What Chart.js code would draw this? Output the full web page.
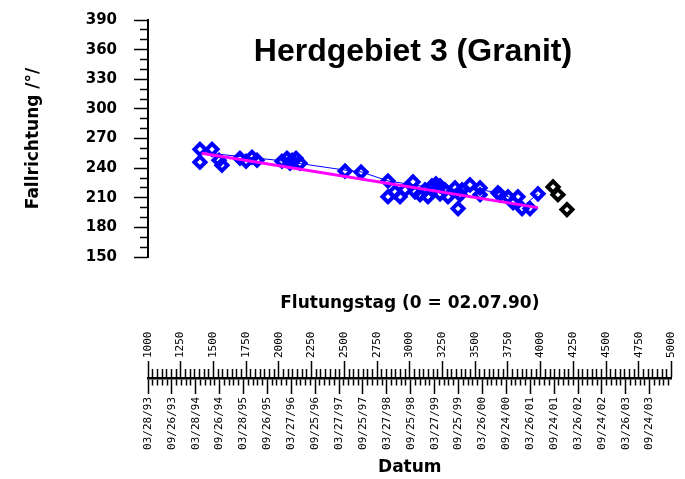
<!DOCTYPE html>
<html>
<head>
<meta charset="utf-8">
<script src="https://cdn.jsdelivr.net/npm/chart.js@4.4.0/dist/chart.umd.min.js"></script>
<style>
    html, body { margin: 0; padding: 0; background: #fff; }
    #wrap { position: relative; width: 685px; height: 479px; }
    #plot { position: absolute; left: 0; top: 0; }
    #scale { position: absolute; left: 0; top: 285px; }
</style>
</head>
<body>
<div id="wrap">
    <canvas id="plot" width="685" height="290"></canvas>
    <canvas id="scale" width="685" height="194"></canvas>
</div>
<script>
// measured points: day since flooding (0 = 02.07.90) and dip direction in degrees
var flutungstag = [1392, 1483, 1392, 1536, 1558, 1694, 1740, 1785, 1823, 2011, 2049, 2087, 2117, 2072, 2147,
    2487, 2608, 2811, 2811, 2864, 2902, 2940, 3000, 3015, 3053, 3091, 3113, 3143, 3173, 3204, 3204, 3241,
    3264, 3317, 3340, 3355, 3370, 3430, 3506, 3506, 3641, 3657, 3717, 3755, 3792, 3823, 3883, 3943];
var fallrichtung = [259, 259, 246, 248, 243, 250, 247, 251, 248, 247, 250, 248, 250, 245, 245,
    237, 236, 227, 211, 216, 211, 218, 226, 216, 213, 218, 211, 222, 224, 222, 214, 218,
    211, 220, 199, 213, 218, 223, 220, 213, 215, 213, 211, 205, 211, 199, 199, 214];

// later points (black)
var spaetTag = [4057, 4094, 4162];
var spaetRichtung = [221, 213, 198];

// thin blue trend line
var trendTag = [1392, 1974, 2487, 2615, 2811, 3204, 3506, 3657, 3845, 3943];
var trendRichtung = [256, 248, 238, 236, 227, 219, 218, 215, 203, 214];

// regression line (magenta)
var regressionTag = [1405, 3943];
var regressionRichtung = [255, 200];

// axis labels
var datumLabels = ["03/28/93", "09/26/93", "03/28/94", "09/26/94", "03/28/95", "09/26/95", "03/27/96",
    "09/25/96", "03/27/97", "09/25/97", "03/27/98", "09/25/98", "03/27/99", "09/25/99", "03/26/00",
    "09/24/00", "03/26/01", "09/24/01", "03/26/02", "09/24/02", "03/26/03", "09/24/03"];

var chartTitle = "Herdgebiet 3 (Granit)";

function points(xs, ys) {
    return xs.map(function (x, i) {
        return { x: x, y: ys[i] };
    });
}

var start = Date.UTC(1990, 6, 2);
function dayOf(label) {
    var p = label.split("/").map(Number);
    var year = p[2] < 50 ? 2000 + p[2] : 1900 + p[2];
    return Math.round((Date.UTC(year, p[0] - 1, p[1]) - start) / 86400000);
}

var datumDays = datumLabels.map(dayOf);
var datumByDay = {};
datumDays.forEach(function (d, i) {
    datumByDay[d] = datumLabels[i];
});

// date axis: half-year major ticks with 4 minor ticks between
var datumTicks = [];
datumDays.forEach(function (d, i) {
    datumTicks.push(d);
    var next = i < datumDays.length - 1 ? datumDays[i + 1] : d + 182.5;
    for (var k = 1; k < 5; k++) {
        var v = d + (k * (next - d)) / 5;
        if (v <= 5000) datumTicks.push(v);
    }
});

// day axis: major every 250 days, 6 minor ticks between
var tagTicks = [];
for (var m = 1000; m <= 5000; m += 250) {
    tagTicks.push(m);
    for (var k = 1; k < 7 && m < 5000; k++) tagTicks.push(m + (k * 250) / 7);
}

var boldSans = "'DejaVu Sans', sans-serif";
var mono = "'DejaVu Sans Mono', monospace";

var plotTitle = {
    id: "plotTitle",
    afterDraw: function (chart) {
        var ctx = chart.ctx,
            area = chart.chartArea;
        ctx.save();
        ctx.font = "bold 32px 'Liberation Sans', Arial, sans-serif";
        ctx.fillStyle = "#000";
        ctx.textAlign = "center";
        ctx.textBaseline = "alphabetic";
        ctx.fillText(chartTitle, (area.left + area.right) / 2, 61);
        ctx.restore();
    },
};

new Chart(document.getElementById("plot"), {
    type: "scatter",
    data: {
        datasets: [
            {
                data: points(regressionTag, regressionRichtung),
                showLine: true,
                borderColor: "#ff00ff",
                borderWidth: 3,
                pointRadius: 0,
            },
            {
                data: points(trendTag, trendRichtung),
                showLine: true,
                borderColor: "#0000ff",
                borderWidth: 1,
                pointRadius: 0,
            },
            {
                data: points(flutungstag, fallrichtung),
                pointStyle: "rectRot",
                pointRadius: 5.5,
                pointHoverRadius: 0,
                borderWidth: 4,
                borderColor: "#0000ff",
                backgroundColor: "rgba(0,0,0,0)",
            },
            {
                data: points(spaetTag, spaetRichtung),
                pointStyle: "rectRot",
                pointRadius: 5.5,
                pointHoverRadius: 0,
                borderWidth: 4,
                borderColor: "#000",
                backgroundColor: "rgba(0,0,0,0)",
            },
        ],
    },
    options: {
        responsive: false,
        animation: false,
        events: [],
        layout: { autoPadding: false, padding: { left: 23, right: 7, top: 20, bottom: 33 } },
        plugins: { legend: { display: false }, tooltip: { enabled: false } },
        scales: {
            x: { type: "linear", min: 1000, max: 5000, display: false },
            y: {
                min: 150,
                max: 390,
                afterFit: function (s) {
                    s.width = 125;
                    s.paddingTop = 9;
                    s.paddingBottom = 9;
                },
                border: { display: true, color: "#000", width: 2 },
                grid: {
                    drawOnChartArea: false,
                    tickLength: 14,
                    tickColor: "#000",
                    tickWidth: 1.5,
                    tickBorderDash: function (c) {
                        return c.tick && c.tick.value % 30 !== 0 ? [8, 6] : [];
                    },
                    tickBorderDashOffset: function (c) {
                        return c.tick && c.tick.value % 30 !== 0 ? 8 : 0;
                    },
                },
                ticks: {
                    stepSize: 10,
                    autoSkip: false,
                    padding: 17,
                    color: "#000",
                    font: { family: boldSans, size: 15, weight: "bold" },
                    callback: function (v) {
                        return v % 30 === 0 ? v : "";
                    },
                },
                title: {
                    display: true,
                    text: "Fallrichtung /°/",
                    color: "#000",
                    font: { family: boldSans, size: 17, weight: "bold" },
                    padding: 0,
                },
            },
        },
    },
    plugins: [plotTitle],
});

new Chart(document.getElementById("scale"), {
    type: "scatter",
    data: { datasets: [] },
    options: {
        responsive: false,
        animation: false,
        events: [],
        layout: { autoPadding: false, padding: { left: 148, right: 7, top: 0, bottom: 0 } },
        plugins: { legend: { display: false }, tooltip: { enabled: false } },
        scales: {
            tag: {
                axis: "x",
                type: "linear",
                position: "top",
                min: 1000,
                max: 5000,
                afterBuildTicks: function (s) {
                    s.ticks = tagTicks.map(function (v) {
                        return { value: v };
                    });
                },
                afterFit: function (s) {
                    s.height = 93;
                },
                border: { display: true, color: "#000", width: 1.5 },
                grid: {
                    drawOnChartArea: false,
                    tickLength: 17,
                    tickColor: "#000",
                    tickWidth: 1.5,
                    tickBorderDash: function (c) {
                        return c.tick && c.tick.value % 250 !== 0 ? [9, 8] : [];
                    },
                    tickBorderDashOffset: function (c) {
                        return c.tick && c.tick.value % 250 !== 0 ? 9 : 0;
                    },
                },
                ticks: {
                    autoSkip: false,
                    minRotation: 90,
                    maxRotation: 90,
                    padding: 3,
                    labelOffset: 13,
                    color: "#000",
                    font: { family: mono, size: 11 },
                    callback: function (v) {
                        return v % 250 === 0 ? String(v) : "";
                    },
                },
                title: {
                    display: true,
                    text: "Flutungstag (0 = 02.07.90)",
                    color: "#000",
                    font: { family: boldSans, size: 17, weight: "bold" },
                    padding: { top: 8, bottom: 0 },
                },
            },
            datum: {
                axis: "x",
                type: "linear",
                position: "bottom",
                min: 1000,
                max: 5000,
                afterBuildTicks: function (s) {
                    s.ticks = datumTicks.map(function (v) {
                        return { value: v };
                    });
                },
                afterFit: function (s) {
                    s.height = 100;
                },
                border: { display: true, color: "#000", width: 1.5 },
                grid: {
                    drawOnChartArea: false,
                    tickLength: 15,
                    tickColor: "#000",
                    tickWidth: 1.5,
                    tickBorderDash: function (c) {
                        return c.tick && !datumByDay[c.tick.value] ? [6, 30] : [];
                    },
                },
                ticks: {
                    autoSkip: false,
                    minRotation: 90,
                    maxRotation: 90,
                    padding: 3,
                    color: "#000",
                    font: { family: mono, size: 11 },
                    callback: function (v) {
                        return datumByDay[v] || "";
                    },
                },
                title: {
                    display: true,
                    text: "Datum",
                    color: "#000",
                    font: { family: boldSans, size: 17, weight: "bold" },
                    padding: { top: 0, bottom: 1 },
                },
            },
            y: { display: false, min: 0, max: 1 },
        },
    },
});
</script>
</body>
</html>
